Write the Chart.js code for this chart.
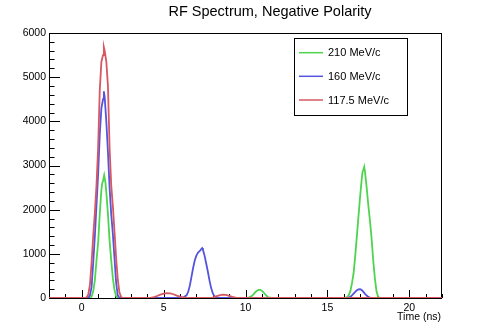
<!DOCTYPE html>
<html>
<head>
<meta charset="utf-8">
<title>RF Spectrum, Negative Polarity</title>
<script src="https://cdn.jsdelivr.net/npm/chart.js@4.4.0/dist/chart.umd.min.js"></script>
<style>
  html, body { margin: 0; padding: 0; background: #fff; }
</style>
</head>
<body>
<canvas id="rfChart" width="491" height="332"></canvas>
<script>
// time (ns) and counts, one pair of arrays per momentum
const t210 = [-2, 0.5, 0.6, 0.7, 0.8, 0.9, 1.0, 1.1, 1.2, 1.25, 1.3, 1.37, 1.45, 1.5, 1.6, 1.7, 1.8, 1.9, 2.0, 2.1, 2.2,
  10.0, 10.2, 10.4, 10.5, 10.6, 10.7, 10.8, 10.9, 11.0, 11.1, 11.2, 11.3, 11.4, 11.6,
  16.0, 16.1, 16.2, 16.3, 16.4, 16.5, 16.6, 16.7, 16.8, 16.9, 17.0, 17.1, 17.15, 17.2, 17.25, 17.3, 17.4, 17.5, 17.6, 17.7, 17.8, 17.9, 18.0, 18.1, 18.2, 22];
const n210 = [0, 0, 30, 150, 400, 850, 1250, 1900, 2450, 2600, 2650, 2780, 2600, 2400, 1900, 1300, 850, 450, 180, 40, 0,
  0, 10, 50, 90, 130, 165, 185, 185, 165, 130, 85, 45, 15, 0,
  0, 5, 20, 60, 150, 330, 560, 950, 1400, 1850, 2300, 2700, 2860, 2900, 2970, 2850, 2500, 2100, 1750, 1350, 850, 450, 150, 30, 0, 0];

const t160 = [-2, 0.3, 0.4, 0.5, 0.6, 0.7, 0.8, 0.9, 1.0, 1.1, 1.2, 1.3, 1.35, 1.4, 1.5, 1.6, 1.7, 1.8, 1.9, 2.0, 2.1, 2.2, 2.3, 2.4,
  6.0, 6.2, 6.4, 6.5, 6.6, 6.7, 6.8, 6.9, 7.0, 7.1, 7.2, 7.3, 7.35, 7.4, 7.5, 7.6, 7.7, 7.8, 7.9, 8.0, 8.1, 8.2, 8.3,
  16.2, 16.3, 16.4, 16.5, 16.6, 16.7, 16.8, 16.9, 17.0, 17.1, 17.2, 17.3, 17.4, 17.5, 17.6, 17.7, 22];
const n160 = [0, 0, 10, 60, 250, 800, 1400, 2100, 2800, 3700, 4300, 4500, 4680, 4550, 4000, 3300, 2500, 1900, 1450, 900, 350, 60, 5, 0,
  0, 10, 60, 140, 280, 480, 680, 850, 960, 1030, 1060, 1110, 1130, 1090, 960, 780, 600, 400, 230, 110, 40, 10, 0,
  0, 5, 25, 60, 100, 140, 175, 195, 200, 180, 140, 95, 55, 25, 8, 0, 0];

const t117 = [-2, 0.2, 0.3, 0.4, 0.5, 0.6, 0.7, 0.8, 0.9, 1.0, 1.1, 1.2, 1.3, 1.35, 1.4, 1.5, 1.6, 1.7, 1.8, 1.9, 2.0, 2.1, 2.2, 2.3, 2.4, 2.5,
  4.0, 4.2, 4.4, 4.6, 4.8, 5.0, 5.2, 5.4, 5.6, 5.8, 6.0, 6.2, 6.4, 6.6,
  7.8, 8.0, 8.2, 8.4, 8.6, 8.8, 9.0, 9.2, 9.4, 9.6, 22];
const n117 = [0, 0, 15, 80, 300, 800, 1400, 1930, 2550, 3400, 4700, 5350, 5500, 5680, 5600, 5350, 4800, 3400, 2550, 2080, 1500, 900, 420, 130, 25, 0,
  0, 5, 20, 45, 75, 100, 110, 105, 85, 55, 30, 12, 3, 0,
  0, 10, 35, 60, 75, 72, 50, 25, 8, 0, 0];

const seriesNames = ["210 MeV/c", "160 MeV/c", "117.5 MeV/c"];
const seriesColors = ["rgb(78, 212, 78)", "rgb(84, 84, 222)", "rgb(214, 88, 98)"];
const xTicks = [0, 5, 10, 15, 20];
const yTicks = [0, 1000, 2000, 3000, 4000, 5000, 6000];

const FONT = "'Liberation Sans', Arial, sans-serif";
Chart.defaults.font.family = FONT;
Chart.defaults.color = "#000";

function pts(t, n) {
  return t.map((x, i) => ({ x: x, y: n[i] }));
}

// ROOT-like frame and inner ticks under the curves, title and legend box on top
const rootStyle = {
  id: "rootStyle",
  beforeDatasetsDraw(chart) {
    const ctx = chart.ctx;
    const a = chart.chartArea;
    const xs = chart.scales.x, ys = chart.scales.y;
    ctx.save();
    ctx.strokeStyle = "#000";
    ctx.lineWidth = 1;
    ctx.strokeRect(a.left + 0.5, a.top + 0.5, a.right - a.left - 1, a.bottom - a.top);

    ctx.beginPath();
    for (let v = 0; v <= 6000; v += 200) {
      const y = Math.round(ys.getPixelForValue(v)) + 0.5;
      const len = v % 1000 === 0 ? 11 : 5.5;
      ctx.moveTo(a.left, y);
      ctx.lineTo(a.left + len, y);
    }
    for (let v = -2; v <= 22; v += 1) {
      const x = Math.round(xs.getPixelForValue(v)) + 0.5;
      const len = v % 5 === 0 ? 8 : 4;
      ctx.moveTo(x, a.bottom);
      ctx.lineTo(x, a.bottom - len);
    }
    ctx.stroke();
    ctx.restore();
  },
  afterDraw(chart) {
    const ctx = chart.ctx;
    const a = chart.chartArea;
    ctx.save();
    ctx.fillStyle = "#000";
    ctx.font = "14.5px " + FONT;
    ctx.textAlign = "center";
    ctx.textBaseline = "alphabetic";
    ctx.fillText("RF Spectrum, Negative Polarity", 270, 15.5);

    ctx.font = "10.5px " + FONT;
    ctx.textAlign = "right";
    ctx.fillText("Time (ns)", a.right - 1, 319.5);

    // legend
    ctx.fillStyle = "#fff";
    ctx.fillRect(294.5, 38.5, 113, 77);
    ctx.strokeStyle = "#000";
    ctx.lineWidth = 1;
    ctx.strokeRect(294.5, 38.5, 113, 77);
    ctx.font = "11px " + FONT;
    ctx.textAlign = "left";
    ctx.textBaseline = "middle";
    const rows = [52.7, 76.3, 100];
    seriesNames.forEach((name, i) => {
      ctx.strokeStyle = seriesColors[i];
      ctx.lineWidth = 1.5;
      ctx.beginPath();
      ctx.moveTo(299, rows[i]);
      ctx.lineTo(323, rows[i]);
      ctx.stroke();
      ctx.fillStyle = "#000";
      ctx.fillText(name, 328, rows[i] + 0.5);
    });
    ctx.restore();
  }
};

const datasets = [pts(t210, n210), pts(t160, n160), pts(t117, n117)].map((d, i) => ({
  label: seriesNames[i],
  data: d,
  borderColor: seriesColors[i],
  borderWidth: 1.8,
  pointRadius: 0,
  tension: 0,
  fill: false,
  order: 2 - i
}));

new Chart(document.getElementById("rfChart"), {
  type: "line",
  data: { datasets: datasets },
  options: {
    responsive: false,
    devicePixelRatio: 1,
    animation: false,
    events: [],
    layout: { padding: { top: 33, right: 49, left: 0, bottom: 0 } },
    plugins: { legend: { display: false }, title: { display: false }, tooltip: { enabled: false } },
    scales: {
      x: {
        type: "linear",
        min: -2,
        max: 22,
        grid: { display: false, drawTicks: false },
        border: { display: false },
        ticks: { font: { size: 10.5 }, color: "#000", padding: 4, maxRotation: 0, callback: (v) => String(v) },
        afterBuildTicks: (s) => { s.ticks = xTicks.map(v => ({ value: v })); },
        afterFit: (s) => { s.height = 34; }
      },
      y: {
        min: 0,
        max: 6000,
        grid: { display: false, drawTicks: false },
        border: { display: false },
        ticks: { font: { size: 10.5 }, color: "#000", padding: 3, callback: (v) => String(v) },
        afterBuildTicks: (s) => { s.ticks = yTicks.map(v => ({ value: v })); },
        afterFit: (s) => { s.width = 49; }
      }
    }
  },
  plugins: [rootStyle]
});
</script>
</body>
</html>
